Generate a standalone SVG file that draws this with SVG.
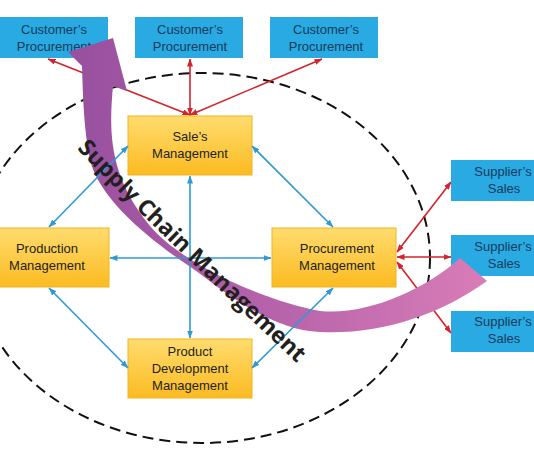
<svg xmlns="http://www.w3.org/2000/svg" width="534" height="462" viewBox="0 0 534 462">
<defs>
<style>
.blue rect{fill:#29aae2}
.blue text{fill:#173b5c;font-family:"Liberation Sans",Arial,sans-serif;font-size:13px;text-anchor:middle}
.yel rect{fill:url(#yg);stroke:#f3b41e;stroke-width:1}
.yel text{fill:#231f20;font-family:"Liberation Sans",Arial,sans-serif;font-size:13px;text-anchor:middle}
.bl{stroke:#2e9ad4;stroke-width:1.6;fill:none;marker-start:url(#ab);marker-end:url(#ab)}
.rd{stroke:#d4232b;stroke-width:1.6;fill:none;marker-start:url(#ar);marker-end:url(#ar)}
</style>
<linearGradient id="yg" x1="0" y1="0" x2="0" y2="1">
<stop offset="0" stop-color="#ffdc6e"/>
<stop offset="1" stop-color="#fbbb22"/>
</linearGradient>
<linearGradient id="pg" gradientUnits="userSpaceOnUse" x1="80" y1="0" x2="490" y2="0">
<stop offset="0" stop-color="#98509f"/>
<stop offset="0.45" stop-color="#b562aa"/>
<stop offset="1" stop-color="#d97db7"/>
</linearGradient>
<marker id="ab" markerUnits="userSpaceOnUse" markerWidth="8" markerHeight="6" refX="7.5" refY="3" orient="auto-start-reverse">
<path d="M0,0 L8,3 L0,6 z" fill="#2e9ad4"/>
</marker>
<marker id="ar" markerUnits="userSpaceOnUse" markerWidth="8" markerHeight="6" refX="7.5" refY="3" orient="auto-start-reverse">
<path d="M0,0 L8,3 L0,6 z" fill="#d4232b"/>
</marker>
<path id="scm" d="M77,149 Q150,225 300,366"/>
</defs>

<ellipse cx="202" cy="258" rx="228" ry="185" fill="none" stroke="#111" stroke-width="2" stroke-dasharray="11 6"/>

<g id="connectors-red">
<line class="rd" x1="190" y1="115" x2="48" y2="59"/>
<line class="rd" x1="190" y1="115" x2="190" y2="59"/>
<line class="rd" x1="190" y1="115" x2="322" y2="59"/>
<line class="rd" x1="397" y1="252" x2="451" y2="182"/>
<line class="rd" x1="397" y1="257" x2="451" y2="257"/>
<line class="rd" x1="397" y1="262" x2="451" y2="333"/>
</g>

<g id="cust1" class="blue"><rect x="0" y="17" width="108" height="41"/><text x="54" y="34.25">Customer’s</text><text x="54" y="51.25">Procurement</text></g>
<g id="cust2" class="blue"><rect x="135" y="17" width="108" height="41"/><text x="190" y="34.25">Customer’s</text><text x="190" y="51.25">Procurement</text></g>
<g id="cust3" class="blue"><rect x="270" y="17" width="108" height="41"/><text x="326" y="34.25">Customer’s</text><text x="326" y="51.25">Procurement</text></g>

<g id="sup1" class="blue"><rect x="451" y="160" width="108" height="41"/><text x="503" y="176.25">Supplier’s</text><text x="504" y="193.25">Sales</text></g>
<g id="sup2" class="blue"><rect x="451" y="235" width="108" height="41"/><text x="503" y="251.25">Supplier’s</text><text x="504" y="268.25">Sales</text></g>
<g id="sup3" class="blue"><rect x="451" y="311" width="108" height="41"/><text x="503" y="326.25">Supplier’s</text><text x="504" y="343.25">Sales</text></g>

<g id="sales" class="yel"><rect x="128" y="116" width="124" height="59"/><text x="190" y="141.25">Sale’s</text><text x="190" y="158.25">Management</text></g>
<g id="production" class="yel"><rect x="-15" y="228" width="124" height="59"/><text x="47" y="252.75">Production</text><text x="47" y="269.75">Management</text></g>
<g id="procurement" class="yel"><rect x="272" y="228" width="124" height="59"/><text x="337" y="252.75">Procurement</text><text x="337" y="269.75">Management</text></g>
<g id="product" class="yel"><rect x="128" y="339" width="124" height="59"/><text x="190" y="355.5">Product</text><text x="190" y="372.5">Development</text><text x="190" y="389.5">Management</text></g>

<g id="scm-arrow">
<path fill="url(#pg)" d="M113,86 C109,130 108,175 150,226 C180,262 260,300 320,311 C365,316 425,290 460,258 L487,281 C440,315 380,335 320,332 C270,330 225,292 192,268 C150,240 100,200 90,160 C84,130 83,100 82,66 L68,52 L113,38 L127,91 Z"/>
</g>

<g id="connectors-blue">
<line class="bl" x1="128" y1="146" x2="49" y2="227"/>
<line class="bl" x1="252" y1="146" x2="333" y2="227"/>
<line class="bl" x1="49" y1="288" x2="128" y2="368"/>
<line class="bl" x1="333" y1="288" x2="252" y2="368"/>
<line class="bl" x1="190" y1="176" x2="190" y2="338"/>
<line class="bl" x1="110" y1="258" x2="271" y2="258"/>
</g>

<text font-family="'Open Sans','Noto Sans',sans-serif" font-weight="bold" font-size="23" fill="#231f20"><textPath href="#scm">Supply Chain Management</textPath></text>
</svg>
